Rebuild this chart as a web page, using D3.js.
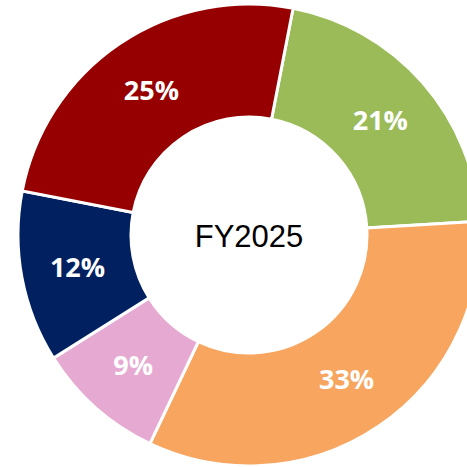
<!DOCTYPE html>
<html><head><meta charset="utf-8">
<script src="https://cdn.jsdelivr.net/npm/d3@7"></script>
<style>html,body{margin:0;padding:0;background:#fff;}svg{display:block;}</style>
</head><body>
<svg id="c" width="467" height="467"></svg>
<script>
const categories = ["Green", "Orange", "Pink", "Navy", "Red"];
const values = [21, 33, 9, 12, 25];
const labels = ["21%", "33%", "9%", "12%", "25%"];
const colors = ["#9BBB59", "#F7A55F", "#E6AAD2", "#002060", "#960000"];
const centerTitle = "FY2025";

const W = 467, H = 467;
const cx = 249, cy = 235, R = 231, r0 = 118;
const rot = 11 * Math.PI / 180;

const svg = d3.select("#c");
const g = svg.append("g").attr("transform", `translate(${cx},${cy})`);

const pie = d3.pie().sort(null).value(d => d)
  .startAngle(rot).endAngle(rot + 2 * Math.PI);
const arc = d3.arc().innerRadius(r0).outerRadius(R);
const arcs = pie(values);

g.selectAll("path").data(arcs).enter().append("path")
  .attr("d", arc)
  .attr("fill", (d, i) => colors[i])
  .attr("stroke", "#fff").attr("stroke-width", 3).attr("stroke-linejoin", "miter");

g.selectAll("text.lbl").data(arcs).enter().append("text")
  .attr("class", "lbl")
  .attr("transform", d => `translate(${arc.centroid(d)})`)
  .attr("text-anchor", "middle").attr("dy", "0.35em")
  .attr("fill", "#fff")
  .attr("font-family", "'Open Sans', sans-serif")
  .attr("font-weight", "bold").attr("font-size", 27)
  .text((d, i) => labels[i]);

g.append("text")
  .attr("text-anchor", "middle").attr("dy", "0.35em").attr("y", 1)
  .attr("font-family", "'Liberation Sans', Arial, sans-serif")
  .attr("font-size", 31).attr("fill", "#000")
  .text(centerTitle);
</script>
</body></html>
